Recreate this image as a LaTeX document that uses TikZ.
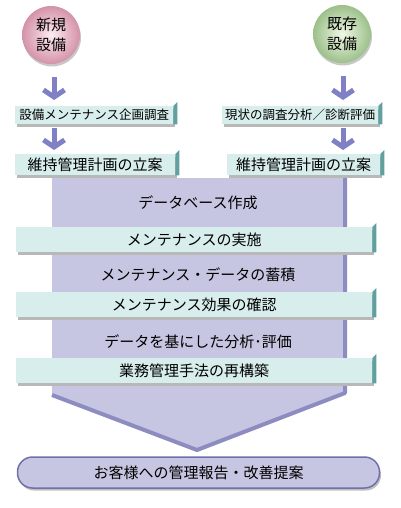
\documentclass[tikz,border=0pt]{standalone}
\usepackage{fontspec}
\setmainfont{Noto Sans CJK JP}
\usetikzlibrary{positioning,arrows.meta,shadows}

\definecolor{bandface}{RGB}{216,238,236}
\definecolor{bandside}{RGB}{96,160,158}
\definecolor{flowbody}{RGB}{198,198,226}
\definecolor{flowedge}{RGB}{140,140,192}
\definecolor{arrowblue}{RGB}{128,128,196}
\definecolor{reportedge}{RGB}{112,112,170}
\definecolor{pinklight}{RGB}{253,236,241}
\definecolor{pinkdark}{RGB}{212,146,168}
\definecolor{greenlight}{RGB}{240,248,230}
\definecolor{greendark}{RGB}{156,192,138}

\tikzset{
  band/.style={fill=bandface, inner sep=0pt, anchor=north west,
    general shadow={fill=black!28, shadow xshift=1.5pt, shadow yshift=-2.5pt}},
  smalltxt/.style={font=\fontsize{12.5}{14}\selectfont},
  bigtxt/.style={font=\fontsize{15}{18}\selectfont},
  origin/.style={circle, minimum size=58pt, inner sep=0pt, align=center,
    font=\fontsize{15}{20}\selectfont,
    general shadow={fill=black!22, shadow xshift=1pt, shadow yshift=-2.5pt}},
  flowarrow/.style={arrowblue, line width=5pt,
    -{Straight Barb[length=7pt, width=21pt]}},
}

\begin{document}
\begin{tikzpicture}[x=1pt, y=-1pt]
\useasboundingbox (0,0) rectangle (400,508);

% big body behind the steps
\fill[flowbody] (52,178) -- (345,178) -- (345,393) -- (197,450) -- (52,395) -- cycle;
\draw[flowedge, line width=4pt, line join=round] (345,178) -- (345,393) -- (197,450) -- (52,395);

% starting points
\node[origin, shading=radial, inner color=pinklight, outer color=pinkdark] (newc) at (51,35) {新規\\設備};
\node[origin, shading=radial, inner color=greenlight, outer color=greendark] (oldc) at (342,34) {既存\\設備};

% surveys and plans
\node[band, smalltxt, minimum width=158pt, minimum height=18pt] (lsurvey) at (15,106) {設備メンテナンス企画調査};
\node[band, smalltxt, minimum width=156pt, minimum height=18pt] (rsurvey) at (222,106) {現状の調査分析／診断評価};
\node[band, bigtxt, minimum width=160pt, minimum height=21pt] (lplan) at (15,154) {維持管理計画の立案};
\node[band, bigtxt, minimum width=153pt, minimum height=21pt] (rplan) at (227,154) {維持管理計画の立案};

% steps
\node[bigtxt] (dbase) at (198,203) {データベース作成};
\node[band, bigtxt, minimum width=356pt, minimum height=25pt] (exec) at (16,227) {メンテナンスの実施};
\node[bigtxt] (store) at (198,275) {メンテナンス・データの蓄積};
\node[band, bigtxt, minimum width=356pt, minimum height=25pt] (check) at (16,292) {メンテナンス効果の確認};
\node[bigtxt] (analysis) at (198,342) {データを基にした分析･評価};
\node[band, bigtxt, minimum width=356pt, minimum height=25pt] (rebuild) at (16,358) {業務管理手法の再構築};

% right faces of the bands
\foreach \b in {lsurvey,rsurvey,lplan,rplan,exec,check,rebuild}
  \fill[bandside] (\b.north east) -- ++(4,-4) -- ([xshift=4pt]\b.south east) -- (\b.south east) -- cycle;

% result
\node[bigtxt, rounded corners=15pt, fill=flowbody, draw=reportedge, line width=1.5pt,
  minimum width=362pt, minimum height=31pt,
  general shadow={fill=black!25, shadow xshift=1.5pt, shadow yshift=-2.5pt}] (report) at (198.5,472.5) {お客様への管理報告・改善提案};

% arrows
\draw[flowarrow] ([xshift=3pt,yshift=-13pt]newc.south) -- ([xshift=3pt,yshift=6pt]newc.south |- lsurvey.north);
\draw[flowarrow] ([xshift=3pt,yshift=-4pt]newc.south |- lsurvey.south) -- ([xshift=3pt,yshift=4pt]newc.south |- lplan.north);
\draw[flowarrow] ([xshift=1pt,yshift=-13pt]oldc.south) -- ([xshift=1pt,yshift=6pt]oldc.south |- rsurvey.north);
\draw[flowarrow] ([xshift=1pt,yshift=-4pt]oldc.south |- rsurvey.south) -- ([xshift=1pt,yshift=4pt]oldc.south |- rplan.north);
\end{tikzpicture}
\end{document}
